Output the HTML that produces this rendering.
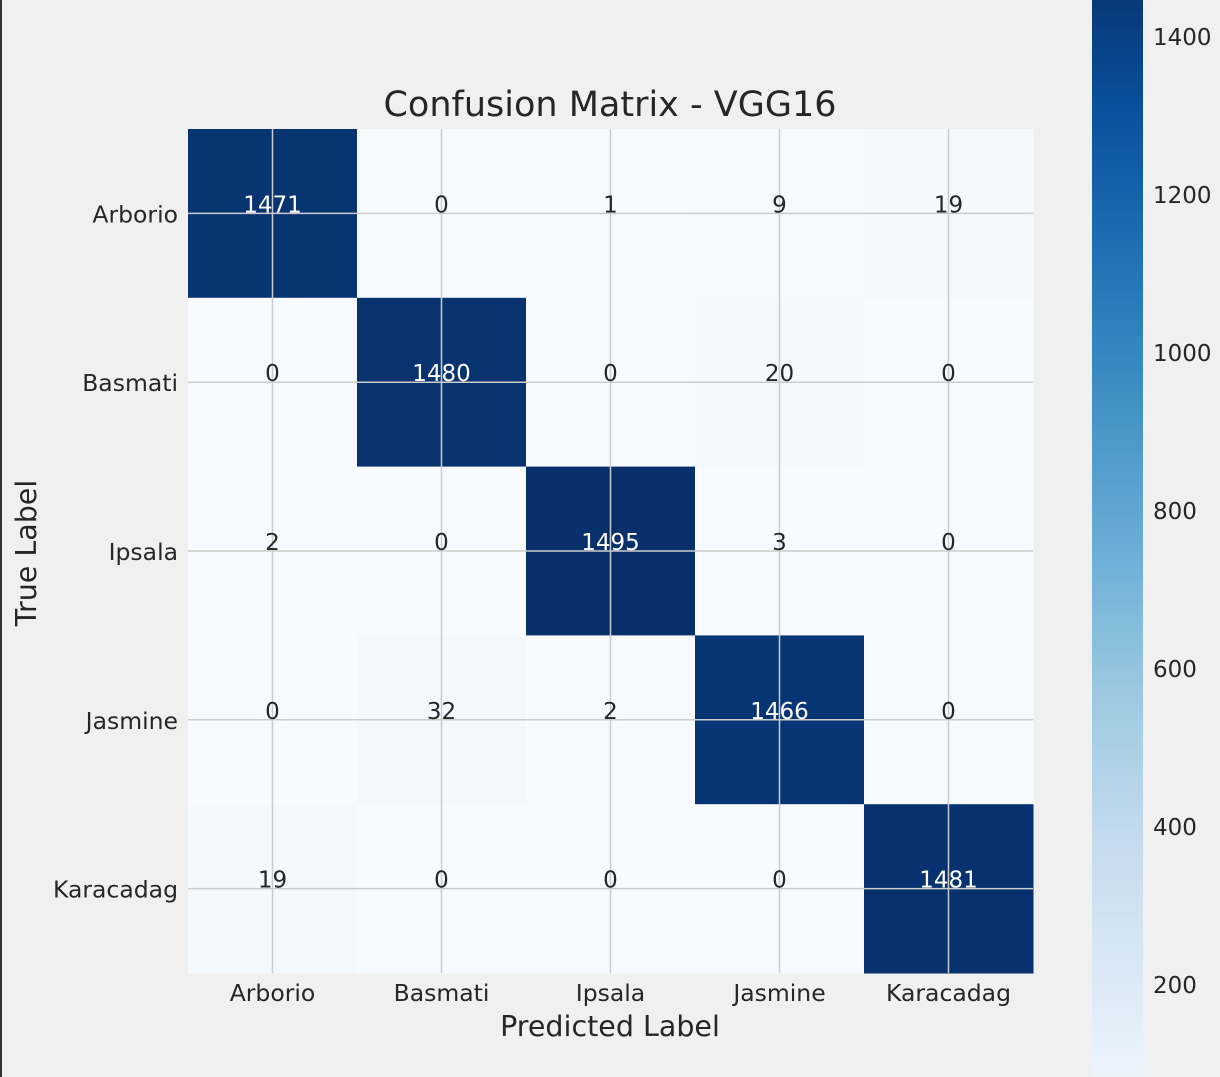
<!DOCTYPE html>
<html><head><meta charset="utf-8"><style>
html,body{margin:0;padding:0;background:#f0f0f0;overflow:hidden;width:1220px;height:1077px;}
svg{display:block;font-family:"DejaVu Sans","Liberation Sans",sans-serif;}
</style></head><body>
<svg id="chart" width="1220" height="1077">
<rect x="0" y="0" width="1220" height="1077" fill="#f0f0f0"/>
<rect x="0" y="0" width="2" height="1077" fill="#333"/>
<defs><linearGradient id="blues" gradientUnits="userSpaceOnUse" x1="0" y1="1143" x2="0" y2="-38">
<stop offset="0" stop-color="#f7fbff"/><stop offset="0.125" stop-color="#deebf7"/><stop offset="0.25" stop-color="#c6dbef"/><stop offset="0.375" stop-color="#9ecae1"/><stop offset="0.5" stop-color="#6baed6"/><stop offset="0.625" stop-color="#4292c6"/><stop offset="0.75" stop-color="#2171b5"/><stop offset="0.875" stop-color="#08519c"/><stop offset="1" stop-color="#08306b"/>
</linearGradient></defs>
<g id="cells"></g>
<g id="grid"></g>
<g id="vals"></g>
<g id="xt"></g>
<g id="yt"></g>
<g id="cb"></g>
<text x="610" y="116" text-anchor="middle" font-size="35" fill="#262626">Confusion Matrix - VGG16</text>
<text x="610" y="1036" text-anchor="middle" font-size="28.5" fill="#262626">Predicted Label</text>
<text transform="translate(36,553) rotate(-90)" text-anchor="middle" font-size="28.5" fill="#262626">True Label</text>
</svg>
<script>
const classes = ["Arborio","Basmati","Ipsala","Jasmine","Karacadag"];
const row0 = [1471,0,1,9,19];
const row1 = [0,1480,0,20,0];
const row2 = [2,0,1495,3,0];
const row3 = [0,32,2,1466,0];
const row4 = [19,0,0,0,1481];
const matrix = [row0,row1,row2,row3,row4];
const cbTicks = [200,400,600,800,1000,1200,1400];
const vmin = 0, vmax = 1495;

const NS="http://www.w3.org/2000/svg";
const X0=188, Y0=129, CW=169, CH=168.8;
const xPos=i=>X0+i*CW, yPos=i=>Y0+i*CH;
const stops=[[247,251,255],[222,235,247],[198,219,239],[158,202,225],[107,174,214],[66,146,198],[33,113,181],[8,81,156],[8,48,107]];
function color(v){let t=Math.max(0,Math.min(1,(v-vmin)/(vmax-vmin)))*8;let i=Math.min(7,Math.floor(t)),f=t-i;
 const c=stops[i].map((a,k)=>Math.round(a+(stops[i+1][k]-a)*f));return `rgb(${c})`;}
function mk(tag,attrs,parent){const e=document.createElementNS(NS,tag);for(const k in attrs)e.setAttribute(k,attrs[k]);parent.appendChild(e);return e;}
const cells=document.getElementById('cells'),grid=document.getElementById('grid'),vals=document.getElementById('vals');
matrix.forEach((row,r)=>row.forEach((v,c)=>{
 const rc=mk('rect',{x:xPos(c),y:yPos(r),width:CW+0.5,height:CH+0.5,fill:color(v)},cells);
 
 
}));
for(let i=0;i<5;i++){
 mk('line',{x1:xPos(i)+CW/2,x2:xPos(i)+CW/2,y1:Y0,y2:Y0+5*CH,stroke:"#cccccc","stroke-width":1.5},grid);
 mk('line',{y1:yPos(i)+CH/2,y2:yPos(i)+CH/2,x1:X0,x2:X0+5*CW,stroke:"#cccccc","stroke-width":1.5},grid);
}
matrix.forEach((row,r)=>row.forEach((v,c)=>{
 const t=mk('text',{x:xPos(c)+CW/2,y:yPos(r)+CH/2-1,"text-anchor":"middle","font-size":23,fill:v>vmax/2?"#ffffff":"#262626"},vals);
 t.textContent=v;
 
 
}));
const xt=document.getElementById('xt'),yt=document.getElementById('yt');
classes.forEach((n,i)=>{
 const a=mk('text',{x:xPos(i)+CW/2,y:1001,"text-anchor":"middle","font-size":23.5,fill:"#262626"},xt);a.textContent=n;
 
 
 const b=mk('text',{x:178,y:yPos(i)+CH/2+9,"text-anchor":"end","font-size":23.5,fill:"#262626"},yt);b.textContent=n;
 
 
});
const cb=document.getElementById('cb');
const cbY=v=>37+(1400-v)*0.79;
const cbTop=Math.max(0,cbY(vmax)), cbBot=Math.min(1077,cbY(vmin));
const bar=mk('rect',{x:1092,y:cbTop,width:51,height:cbBot-cbTop,fill:"url(#blues)"},cb);


cbTicks.forEach(v=>{
 const t=mk('text',{x:1153,y:cbY(v)+8,"font-size":23,fill:"#262626"},cb);t.textContent=v;
 
 
});
</script>
</body></html>
